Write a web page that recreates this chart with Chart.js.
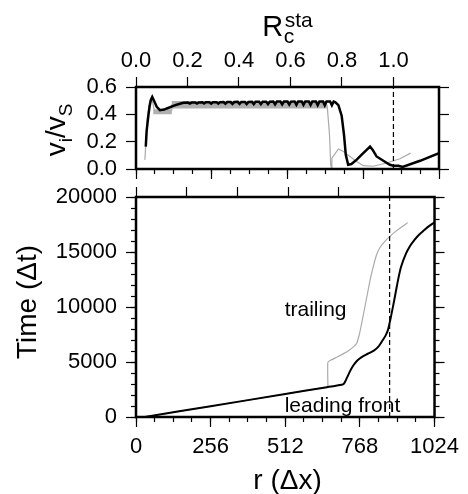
<!DOCTYPE html>
<html>
<head>
<meta charset="utf-8">
<script src="https://cdn.jsdelivr.net/npm/chart.js@4"></script>
<style>
  html, body { margin: 0; padding: 0; background: #fff; }
  #wrap { position: relative; width: 468px; height: 494px; }
  canvas { position: absolute; left: 0; top: 0; }
</style>
</head>
<body>
<div id="wrap">
  <canvas id="speedChart" width="468" height="494"></canvas>
  <canvas id="timeChart" width="468" height="494"></canvas>
</div>
<script>
var FONT = "'Liberation Sans', Arial, Helvetica, sans-serif";
var R_STA = 870;   // r where R_c^sta = 1 (dashed line)
var R_MAX = 1024;

// top panel: rupture speed v_i/v_S along r
var leadSpeedR = [33, 36, 42, 46, 50, 55, 61, 70, 81, 95, 104, 115, 126, 140, 160, 176,
  182, 188, 200, 206, 212, 224, 230, 236, 248, 254, 260, 272, 278, 284, 296, 302, 308, 320, 326, 332,
  344, 350, 356, 368, 374, 380, 392, 398, 404, 416, 422, 428, 440, 446, 452, 464, 470, 476,
  488, 494, 500, 512, 518, 524, 536, 542, 548, 560, 566, 572, 584, 590, 596, 608, 614, 620,
  632, 638, 644, 656, 662, 668, 673, 684, 695, 703, 709, 717, 728, 745, 768, 791, 800, 813,
  836, 858, 870, 887, 901, 960, 1024];
var leadSpeedV = [0.164, 0.28, 0.394, 0.46, 0.503, 0.527, 0.50, 0.455, 0.43, 0.435, 0.443, 0.452, 0.462, 0.472, 0.484, 0.486,
  0.479, 0.486, 0.487, 0.479, 0.487, 0.488, 0.479, 0.488, 0.488, 0.478, 0.488, 0.489, 0.478, 0.489, 0.49, 0.477, 0.49, 0.49, 0.476, 0.49,
  0.491, 0.476, 0.491, 0.491, 0.475, 0.491, 0.492, 0.475, 0.492, 0.492, 0.474, 0.492, 0.492, 0.474, 0.492, 0.493, 0.473, 0.493,
  0.493, 0.472, 0.493, 0.493, 0.471, 0.493, 0.494, 0.47, 0.494, 0.494, 0.469, 0.494, 0.494, 0.468, 0.494, 0.494, 0.467, 0.494,
  0.494, 0.466, 0.494, 0.494, 0.466, 0.494, 0.49, 0.467, 0.39, 0.25, 0.104, 0.031, 0.036, 0.067, 0.116, 0.164, 0.14, 0.092,
  0.06, 0.031, 0.024, 0.024, 0.015, 0.06, 0.116];

var trailSpeedR = [30, 38, 46, 53, 58, 62, 121, 121, 645, 647, 654, 658, 661, 662, 684, 701, 723, 746, 768, 802, 847, 892, 928];
var trailSpeedV = [0.067, 0.37, 0.49, 0.527, 0.47, 0.43, 0.43, 0.47, 0.47, 0.44, 0.25, 0.03, 0, 0.08, 0.147, 0.128, 0.092, 0.055, 0.024, 0.02, 0.044, 0.075, 0.116];

// oscillating trailing speed, shown as a band
var bandR = [58, 121, 121, 645];
var bandHi = [0.435, 0.435, 0.497, 0.497];
var bandLo = [0.40, 0.40, 0.443, 0.443];

// bottom panel: time of arrival
var leadTimeR = [30, 256, 512, 655, 706, 712, 718, 725, 733, 741, 750, 760, 774, 795, 817, 833, 846, 856, 864,
  872, 882, 892, 900, 909, 926, 940, 954, 970, 988, 1005, 1024];
var leadTimeT = [0, 980, 2090, 2710, 2940, 3000, 3250, 3650, 4100, 4500, 4850, 5150, 5450, 5750, 6060, 6450, 6970, 7400, 7900,
  8800, 10100, 11500, 12600, 13640, 14850, 15550, 16060, 16550, 16970, 17350, 17700];

var trailTimeR = [30, 256, 512, 655, 658, 658, 667, 690, 712, 730, 745, 757, 766, 774, 785, 796, 806, 816, 826, 838, 853, 870, 890, 910, 932];
var trailTimeT = [0, 980, 2090, 2710, 2730, 4950, 5150, 5450, 5760, 6050, 6350, 6700, 7500, 8500, 10000, 11500, 12800, 13900, 14800, 15450, 15950, 16400, 16850, 17250, 17670];

function pts(xs, ys) {
  return xs.map(function (x, i) { return {x: x, y: ys[i]}; });
}

// size: space the axis takes (0 for tick-only axes that sit on the frame)
function axis(pos, min, max, step, tickLen, size, fmt, pad) {
  var labels = size > 0;
  return {
    type: 'linear', position: pos, min: min, max: max,
    weight: labels ? 1 : 0,
    afterFit: function (s) { if (s.isHorizontal()) s.height = size; else s.width = size; },
    border: {display: false},
    grid: {drawOnChartArea: false, drawTicks: true, tickLength: tickLen, tickColor: '#000', tickWidth: 1.2},
    ticks: {
      stepSize: step, display: labels, autoSkip: false, maxRotation: 0, includeBounds: false,
      color: '#000', padding: pad === undefined ? 9 : pad, font: {family: FONT, size: 22, lineHeight: 1},
      callback: fmt || function (v) { return String(v); }
    }
  };
}

function oneDec(v) { return v.toFixed(1); }

var frame = {
  id: 'frame',
  afterDraw: function (chart) {
    var a = chart.chartArea, ctx = chart.ctx;
    ctx.save();
    ctx.strokeStyle = '#000';
    ctx.lineWidth = 2.5;
    ctx.strokeRect(a.left, a.top, a.right - a.left, a.bottom - a.top);
    ctx.restore();
  }
};

function line(data, color, width, extra) {
  var d = {data: data, borderColor: color, borderWidth: width, pointRadius: 0, tension: 0, fill: false};
  for (var k in extra) d[k] = extra[k];
  return d;
}

var baseOpts = {
  responsive: false, animation: false, devicePixelRatio: 1, events: [],
  plugins: {legend: {display: false}, tooltip: {enabled: false}}
};

// ---- top panel ----
var speedTitles = {
  id: 'speedTitles',
  afterDraw: function (chart) {
    var ctx = chart.ctx;
    ctx.save();
    ctx.fillStyle = '#000';
    ctx.textAlign = 'left';
    ctx.textBaseline = 'alphabetic';
    // R_c^sta
    ctx.font = '29px ' + FONT;
    var wR = ctx.measureText('R').width;
    ctx.font = '21px ' + FONT;
    var wS = ctx.measureText('sta').width;
    var x0 = 287.5 - (wR + 1.5 + wS) / 2;
    ctx.font = '29px ' + FONT;
    ctx.fillText('R', x0, 36);
    ctx.font = '21px ' + FONT;
    ctx.fillText('c', x0 + wR + 0.5, 43);
    ctx.fillText('sta', x0 + wR + 1.5, 27);
    // v_i / v_S, rotated
    var parts = [['v', 28, 0], ['i', 19, 7], ['/', 28, 0], ['v', 28, 0], ['S', 19, 7]];
    var total = 0;
    parts.forEach(function (p) { ctx.font = p[1] + 'px ' + FONT; p.push(ctx.measureText(p[0]).width); total += p[3]; });
    ctx.translate(65, 130);
    ctx.rotate(-Math.PI / 2);
    var x = -total / 2;
    parts.forEach(function (p) {
      ctx.font = p[1] + 'px ' + FONT;
      ctx.fillText(p[0], x, p[2]);
      x += p[3];
    });
    ctx.restore();
  }
};

new Chart(document.getElementById('speedChart'), {
  type: 'line',
  data: {
    datasets: [
      line(pts(leadSpeedR, leadSpeedV), '#000', 2.5),
      line([{x: R_STA, y: 0}, {x: R_STA, y: 0.6}], '#000', 1.2, {borderDash: [5, 3]}),
      line(pts(trailSpeedR, trailSpeedV), '#aaaaaa', 1.2),
      line(pts(bandR, bandHi), 'rgba(0,0,0,0)', 0, {fill: '+1', backgroundColor: '#b0b0b0'}),
      line(pts(bandR, bandLo), 'rgba(0,0,0,0)', 0)
    ]
  },
  options: Object.assign({}, baseOpts, {
    layout: {padding: {left: 0, right: 29, top: 0, bottom: 325}},
    scales: {
      x: axis('bottom', 0, R_MAX, 64, 5, 0),
      xMaj: axis('bottom', 0, R_MAX, 256, 10, 0),
      xR: axis('top', 0, R_MAX / R_STA, 0.2, 10, 87, oneDec, 5),
      y: axis('left', 0, 0.6, 0.2, 10, 136, oneDec),
      yR: axis('right', 0, 0.6, 0.2, 10, 0)
    }
  }),
  plugins: [frame, speedTitles]
});

// ---- bottom panel ----
var timeTitles = {
  id: 'timeTitles',
  afterDraw: function (chart) {
    var ctx = chart.ctx, xs = chart.scales.x, ys = chart.scales.y;
    ctx.save();
    ctx.fillStyle = '#000';
    ctx.textBaseline = 'alphabetic';
    ctx.font = '21px ' + FONT;
    ctx.textAlign = 'left';
    ctx.fillText('trailing', xs.getPixelForValue(510), ys.getPixelForValue(9150));
    ctx.fillText('leading front', xs.getPixelForValue(510), ys.getPixelForValue(430));
    ctx.font = '28px ' + FONT;
    ctx.textAlign = 'center';
    ctx.fillText('r (\u0394x)', 287.5, 489);
    ctx.translate(36, 302);
    ctx.rotate(-Math.PI / 2);
    ctx.fillText('Time (\u0394t)', 0, 0);
    ctx.restore();
  }
};

new Chart(document.getElementById('timeChart'), {
  type: 'line',
  data: {
    datasets: [
      line(pts(leadTimeR, leadTimeT), '#000', 2, {tension: 0.25}),
      line([{x: R_STA, y: 0}, {x: R_STA, y: 20000}], '#000', 1.2, {borderDash: [5, 3]}),
      line(pts(trailTimeR, trailTimeT), '#aaaaaa', 1.2, {tension: 0.2})
    ]
  },
  options: Object.assign({}, baseOpts, {
    layout: {padding: {left: 0, right: 29, top: 197, bottom: 0}},
    scales: {
      x: axis('bottom', 0, R_MAX, 64, 5, 0),
      xMaj: axis('bottom', 0, R_MAX, 256, 10, 77),
      xR: axis('top', 0, R_MAX / R_STA, 0.2, 10, 0),
      y: axis('left', 0, 20000, 5000, 10, 136),
      yMin: axis('left', 0, 20000, 1000, 5, 0),
      yR: axis('right', 0, 20000, 5000, 10, 0),
      yRMin: axis('right', 0, 20000, 1000, 5, 0)
    }
  }),
  plugins: [frame, timeTitles]
});
</script>
</body>
</html>
